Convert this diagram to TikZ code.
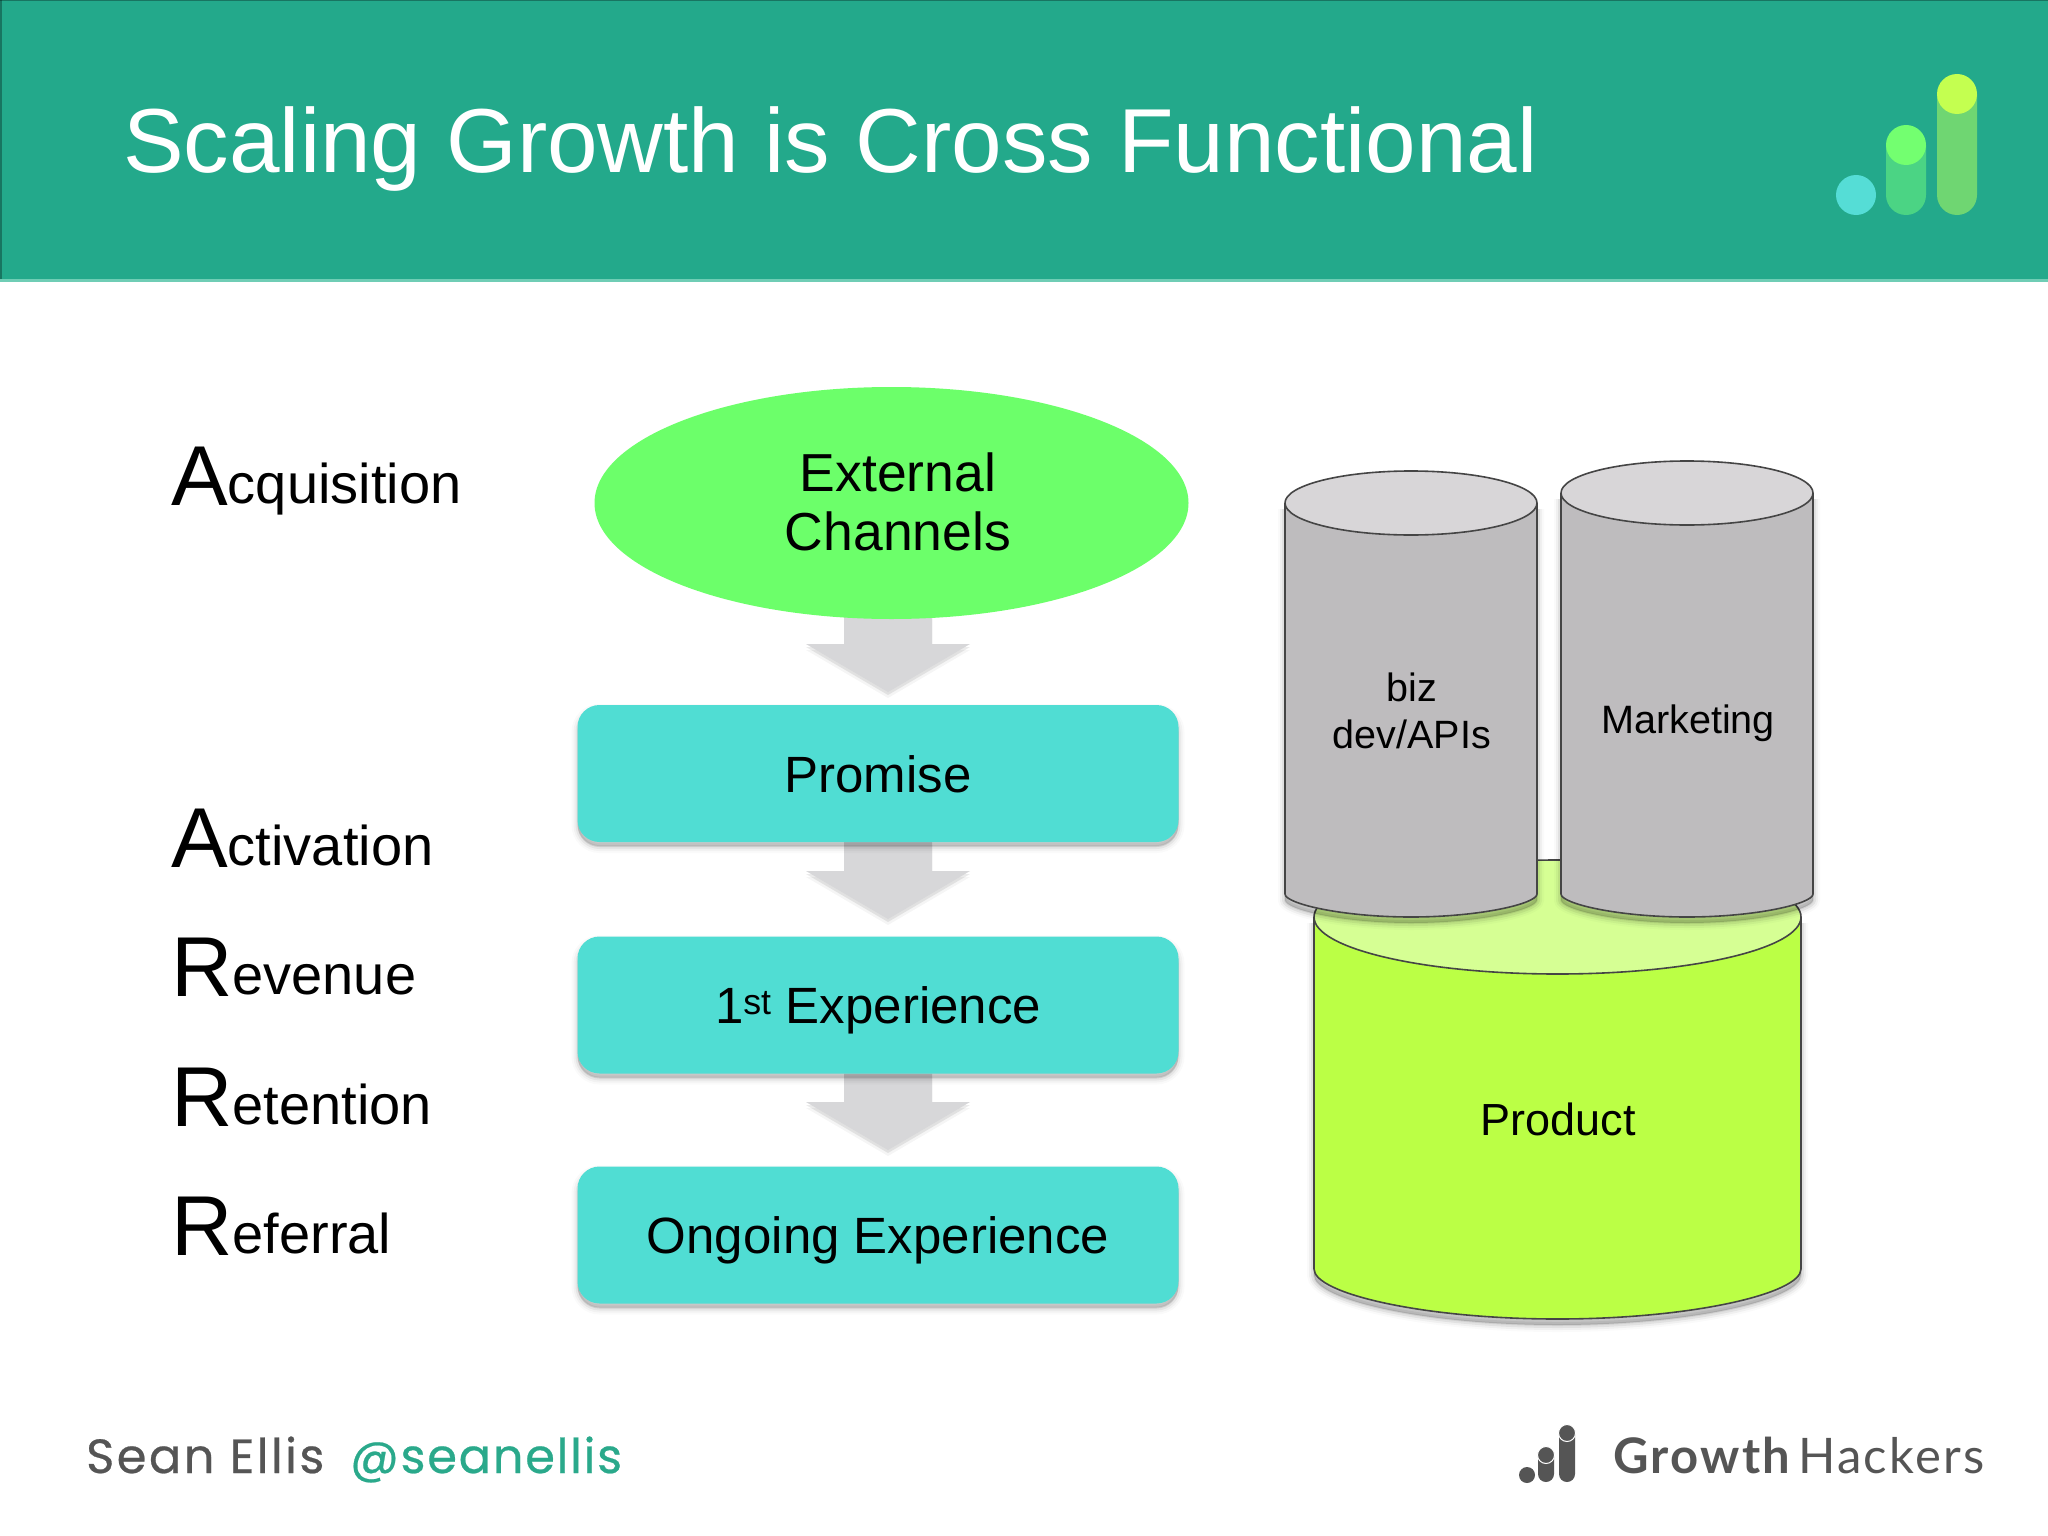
\documentclass[tikz,border=0pt]{standalone}
\usepackage{fontspec}
\setmainfont{Liberation Sans}
\newfontfamily\footfont{Lato}[LetterSpace=4.6]
\newfontfamily\seanfont{Poppins}[LetterSpace=5,FakeBold=0.5]
\newfontfamily\handlefont{Poppins}[LetterSpace=3.5,FakeBold=0.5]
\usetikzlibrary{shapes.geometric,shadows,backgrounds,calc}
\definecolor{headbg}{HTML}{23A98B}
\definecolor{headline}{HTML}{6FCDB5}
\definecolor{boxcol}{HTML}{50DDD3}
\definecolor{ellcol}{HTML}{6CFF6A}
\definecolor{arrowcol}{HTML}{D7D7D9}
\definecolor{prodcol}{HTML}{BBFF45}
\definecolor{prodtop}{HTML}{D6FF94}
\definecolor{graycol}{HTML}{BEBCBE}
\definecolor{graytop}{HTML}{D8D6D8}
\definecolor{edgecol}{HTML}{454545}
\definecolor{footgray}{HTML}{555555}
\definecolor{footgreen}{HTML}{2AA98B}
\definecolor{logocyan}{HTML}{55DDD6}
\definecolor{logogreen}{HTML}{73FF70}
\definecolor{logoyellow}{HTML}{C4FF50}
\definecolor{logobarA}{HTML}{4BD484}
\definecolor{logobarB}{HTML}{6FD672}
\newcommand{\fsz}[1]{\fontsize{#1}{#1}\selectfont}
\newcommand{\fll}[2]{\fontsize{#1}{#2}\selectfont}
\newcommand{\bigini}[1]{\raisebox{-2pt}{\fsz{85}#1}\fsz{56}}
\tikzset{
  softshadow/.style={
    general shadow={draw=black,fill=black,opacity=.02,line width=12pt,shadow yshift=-5pt},
    general shadow={draw=black,fill=black,opacity=.03,line width=8pt,shadow yshift=-5pt},
    general shadow={draw=black,fill=black,opacity=.05,line width=4pt,shadow yshift=-5pt},
    general shadow={fill=black,opacity=.10,shadow yshift=-4pt}},
  stagebox/.style={rectangle,rounded corners=22pt,fill=boxcol,minimum width=601pt,minimum height=137pt,
    inner sep=0pt,softshadow,text=black,font=\fsz{51},text height=37pt,text depth=0pt},
  stagelabel/.style={anchor=base west,inner sep=0pt,text=black},
  cyltext/.style={inner sep=0pt,align=center,text=black},
  blockarrow/.style={fill=arrowcol,
    general shadow={fill=black,opacity=.04,shadow yshift=-6pt},
    general shadow={fill=black,opacity=.08,shadow yshift=-3pt}},
  cylbody/.style={draw=edgecol,line width=1.6pt,rounded corners=7pt},
  cyltop/.style={draw=edgecol,line width=1.6pt},
}
% #1 left  #2 right  #3 y of top ellipse centre  #4 top ry  #5 y of bottom arc centre  #6 bottom ry  #7 body  #8 top
\newcommand{\cylshape}[8]{%
  \pgfmathsetmacro{\rxx}{(#2-#1)/2}%
  \pgfmathsetmacro{\cxx}{(#2+#1)/2}%
  \foreach \op/\lw in {.02/14pt,.04/10pt,.06/6pt,.07/2pt}{%
    \fill[black,opacity=\op,draw=black,line width=\lw,shift={(0,6)},rounded corners=7pt]
      (#1,#3) -- (#1,#5) arc[start angle=180,end angle=360,x radius=\rxx pt,y radius=#6 pt]
      -- (#2,#3);}%
  \path[cylbody,fill=#7]
      (#1,#3) -- (#1,#5) arc[start angle=180,end angle=360,x radius=\rxx pt,y radius=#6 pt]
      -- (#2,#3);
  \path[cyltop,fill=#8] (\cxx,#3) ellipse[x radius=\rxx pt,y radius=#4 pt];}
% #1 upper node, #2 axis coordinate, #3 head top y, #4 tip y
\newcommand{\flowarrow}[4]{%
  \path[blockarrow] let \p1=(#1), \p2=(#2) in
    (\x2-44pt,\y1) -- (\x2+44pt,\y1) -- (\x2+44pt,-#3pt) -- (\x2+82pt,-#3pt)
    -- (\x2,-#4pt) -- (\x2-82pt,-#3pt) -- (\x2-44pt,-#3pt) -- cycle;}
\begin{document}
\begin{tikzpicture}[x=1pt,y=-1pt]
\useasboundingbox (0,0) rectangle (2048,1536);
% header
\fill[headline] (0,279) rectangle (2048,282);
\fill[headbg] (0,0) rectangle (2048,279);
\fill[black,opacity=.3] (0,0) rectangle (2048,1.5);
\fill[black,opacity=.3] (0,0) rectangle (1.5,279);
\node[anchor=base west,inner sep=0pt,text=white,font=\fsz{90.9}] (title) at (123,172) {Scaling Growth is Cross Functional};
% header logo
\fill[logobarA] (1886,145) -- (1926,145) -- (1926,195) arc[start angle=0,end angle=-180,radius=20pt] -- cycle;
\fill[logobarB] (1937,94) -- (1977,94) -- (1977,195) arc[start angle=0,end angle=-180,radius=20pt] -- cycle;
\fill[logocyan] (1856,195) circle[radius=20pt];
\fill[logogreen] (1906,145) circle[radius=20pt];
\fill[logoyellow] (1957,94) circle[radius=20pt];
% funnel
\node[ellipse,fill=ellcol,minimum width=594pt,minimum height=232pt,inner sep=0pt] (channels) at (891.5,503) {};
\node[cyltext,font=\fll{53.5}{59}] (channelstext) at (898,502) {External\\Channels};
\node[stagebox] (promise) at (878,773.5) {Promise};
\node[stagebox] (first) at (878,1005) {1\textsuperscript{st} Experience};
\node[stagebox] (ongoing) at (878,1235) {Ongoing Experience};
\begin{scope}[on background layer]
\fill[white] (0,282) rectangle (2048,1536);
\coordinate (axis) at (888,0);
\flowarrow{channels.center}{axis}{644}{692}
\flowarrow{promise.south}{axis}{871}{919}
\flowarrow{first.south}{axis}{1102}{1150}
\end{scope}
% left labels
\node[stagelabel] (acq) at (171,503.5) {\bigini{A}cquisition};
\node[stagelabel] (act) at (171,865.5) {\bigini{A}ctivation};
\node[stagelabel] (rev) at (171,994.5) {\bigini{R}evenue};
\node[stagelabel] (ret) at (171,1124.5) {\bigini{R}etention};
\node[stagelabel] (ref) at (171,1253.5) {\bigini{R}eferral};
% cylinders
\cylshape{1314}{1801}{917}{57}{1262}{57}{prodcol}{prodtop}
\node[cyltext,font=\fsz{45}] (product) at (1558,1119) {Product};
\cylshape{1285}{1537}{503}{32}{887}{30}{graycol}{graytop}
\node[cyltext,font=\fll{39.5}{47}] (biz) at (1412,711) {biz\\dev/APIs};
\cylshape{1561}{1813}{493}{32}{887}{30}{graycol}{graytop}
\node[cyltext,font=\fsz{39.6}] (marketing) at (1688,723) {Marketing};
% footer
\node[anchor=base west,inner sep=0pt,text=footgray,font=\seanfont\fsz{48}] (sean) at (86,1473) {Sean Ellis};
\node[anchor=base west,inner sep=0pt,text=footgreen,font=\handlefont\fsz{48}] (handle) at (350,1473) {@seanellis};
\fill[footgray] (1527,1475) circle[radius=8pt];
\fill[footgray] (1538,1455) -- (1554,1455) -- (1554,1474) arc[start angle=0,end angle=-180,radius=8pt] -- cycle;
\fill[footgray] (1559,1433) -- (1575,1433) -- (1575,1474) arc[start angle=0,end angle=-180,radius=8pt] -- cycle;
\path[fill=footgray,draw=white,line width=1pt] (1546,1455) circle[radius=8.5pt];
\path[fill=footgray,draw=white,line width=1pt] (1567,1433) circle[radius=8.5pt];
\node[anchor=base west,inner sep=0pt,text=footgray,font=\footfont\fsz{49}] (gh) at (1613,1473)
  {\textbf{Growth}\hspace{6pt}Hackers};
\end{tikzpicture}
\end{document}
